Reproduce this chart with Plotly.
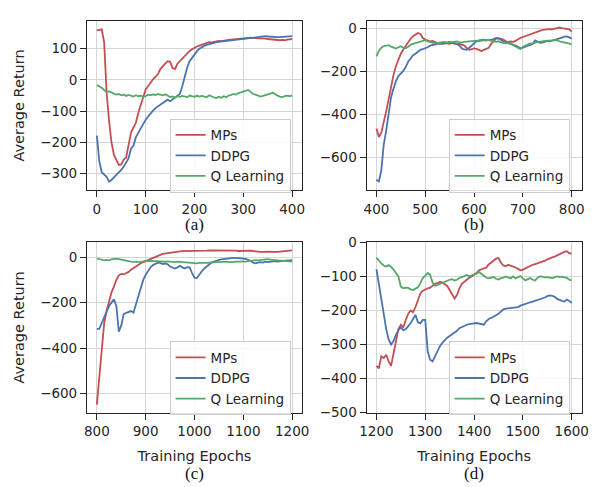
import plotly.graph_objects as go

# ---------------- data ----------------
A_EPOCHS = list(range(0, 401, 5))
B_EPOCHS = list(range(400, 801, 5))
C_EPOCHS = list(range(800, 1201, 5))
D_EPOCHS = list(range(1200, 1601, 5))

A_MPS = [159, 160, 162, 120, -40, -130, -200, -240, -258, -272,
         -270, -255, -248, -205, -168, -152, -137, -105, -80, -50,
         -30, -20, -8, 2, 10, 18, 35, 45, 52, 60,
         58, 38, 35, 52, 60, 68, 78, 86, 93, 98,
         103, 107, 110, 113, 115, 119, 121, 120, 122, 124,
         125, 124, 126, 127, 128, 129, 130, 131, 131, 132,
         133, 134, 134, 135, 134, 134, 133, 134, 133, 132,
         131, 130, 130, 129, 128, 127, 128, 127, 129, 130,
         131]
A_DDPG = [-178, -260, -295, -302, -310, -325, -320, -312, -305, -295,
          -288, -278, -266, -250, -220, -210, -183, -168, -152, -140,
          -127, -117, -106, -98, -90, -84, -78, -72, -66, -63,
          -68, -62, -58, -52, -45, -20, 15, 40, 60, 72,
          83, 92, 100, 105, 109, 112, 115, 117, 119, 121,
          122, 123, 124, 125, 126, 127, 128, 129, 130, 131,
          132, 133, 134, 135, 136, 137, 138, 139, 139, 140,
          139, 138, 137, 136, 137, 137, 138, 139, 139, 140,
          140]
A_QL = [-16, -20, -25, -32, -38, -37, -40, -44, -47, -45,
        -49, -47, -51, -48, -50, -53, -49, -52, -50, -54,
        -52, -47, -49, -46, -48, -45, -47, -49, -46, -50,
        -55, -53, -56, -52, -54, -51, -53, -55, -50, -52,
        -54, -50, -53, -51, -52, -55, -49, -53, -56, -58,
        -54, -57, -52, -55, -50, -48, -45, -47, -42, -40,
        -38, -35, -32, -38, -45, -47, -50, -53, -51, -49,
        -47, -44, -40, -46, -50, -53, -55, -52, -50, -52,
        -50]

B_MPS = [-466, -505, -485, -440, -385, -330, -270, -215, -175, -145,
         -118, -98, -80, -62, -48, -36, -27, -21, -26, -45,
         -52, -55, -60, -58, -64, -68, -72, -70, -68, -70,
         -72, -67, -70, -74, -72, -77, -80, -92, -100, -97,
         -93, -95, -100, -105, -100, -96, -90, -72, -58, -48,
         -46, -48, -52, -60, -63, -61, -63, -58, -50, -44,
         -40, -36, -33, -28, -22, -18, -15, -10, -7, -6,
         -4, -3, -4, -1, 2, 4, 1, -2, -4, -5,
         -15]
B_DDPG = [-704, -712, -660, -540, -475, -395, -320, -280, -245, -222,
          -210, -198, -180, -155, -140, -125, -118, -108, -100, -96,
          -93, -88, -80, -77, -75, -72, -70, -72, -68, -66,
          -65, -68, -70, -72, -80, -93, -98, -100, -90, -80,
          -72, -60, -56, -54, -52, -55, -56, -54, -50, -44,
          -46, -55, -60, -64, -70, -72, -75, -80, -86, -93,
          -90, -84, -80, -78, -72, -56, -62, -67, -66, -62,
          -58, -60, -57, -55, -52, -47, -43, -38, -37, -42,
          -48]
B_QL = [-130, -105, -90, -82, -80, -78, -85, -90, -94, -88,
        -83, -90, -93, -85, -76, -72, -68, -66, -62, -57,
        -55, -60, -63, -67, -70, -68, -66, -64, -63, -66,
        -62, -64, -63, -61, -64, -66, -63, -62, -60, -62,
        -58, -57, -60, -56, -55, -57, -54, -58, -62, -63,
        -60, -65, -68, -70, -67, -72, -78, -82, -88, -96,
        -85, -78, -75, -70, -72, -66, -63, -61, -60, -58,
        -57, -55, -56, -54, -55, -60, -62, -64, -68, -70,
        -73]

C_MPS = [-648, -520, -380, -290, -237, -190, -155, -130, -100, -80,
         -74, -76, -70, -65, -55, -47, -40, -33, -27, -22,
         -17, -12, -7, -3, 2, 6, 10, 14, 16, 18,
         20, 22, 23, 24, 25, 26, 26, 26, 27, 27,
         28, 28, 27, 28, 29, 29, 30, 30, 31, 30,
         31, 31, 30, 31, 32, 31, 30, 29, 27, 28,
         26, 29, 30, 29, 27, 25, 24, 23, 23, 24,
         23, 24, 23, 22, 23, 24, 25, 26, 27, 29,
         30]
C_DDPG = [-315, -315, -290, -262, -237, -215, -200, -185, -215, -328,
          -300, -250, -245, -240, -237, -244, -205, -170, -130, -100,
          -78, -60, -45, -35, -28, -24, -25, -30, -28, -32,
          -41, -45, -50, -45, -38, -45, -50, -44, -45, -70,
          -90, -92, -75, -62, -50, -40, -32, -24, -20, -15,
          -12, -10, -8, -6, -5, -4, -3, -3, -4, -5,
          -6, -8, -12, -16, -24, -27, -24, -22, -24, -20,
          -22, -20, -21, -18, -20, -17, -16, -15, -14, -13,
          -13]
C_QL = [-6, -9, -13, -14, -12, -14, -10, -8, -7, -9,
        -12, -13, -15, -18, -20, -21, -23, -24, -22, -19,
        -17, -18, -16, -17, -18, -17, -19, -18, -20, -19,
        -21, -20, -22, -20, -21, -19, -21, -23, -22, -25,
        -26, -27, -25, -26, -24, -25, -24, -23, -22, -24,
        -21, -22, -21, -20, -22, -21, -20, -19, -21, -20,
        -19, -20, -18, -17, -15, -13, -14, -12, -11, -10,
        -9, -11, -12, -14, -13, -15, -16, -17, -18, -19,
        -20]

D_MPS = [-363, -370, -335, -340, -330, -350, -363, -325, -285, -255,
         -242, -250, -228, -210, -200, -205, -190, -168, -150, -142,
         -138, -135, -133, -128, -122, -120, -116, -118, -124, -128,
         -140, -155, -165, -155, -135, -122, -115, -110, -104, -100,
         -95, -90, -82, -80, -78, -74, -65, -60, -55, -48,
         -46, -60, -68, -70, -66, -68, -72, -74, -78, -82,
         -80, -76, -72, -70, -66, -64, -62, -60, -56, -54,
         -50, -46, -44, -42, -38, -35, -32, -28, -26, -32,
         -33]
D_DDPG = [-79, -120, -160, -210, -255, -285, -300, -290, -272, -258,
          -250, -258, -255, -248, -238, -225, -213, -235, -238, -228,
          -228, -320, -345, -350, -335, -318, -305, -295, -286, -280,
          -275, -270, -266, -260, -252, -248, -244, -242, -240, -238,
          -238, -237, -238, -240, -242, -232, -225, -222, -218, -215,
          -210, -203, -197, -195, -194, -193, -192, -191, -190, -186,
          -183, -181, -178, -176, -174, -172, -170, -168, -166, -162,
          -158, -156, -157, -160, -166, -170, -172, -174, -168, -172,
          -178]
D_QL = [-45, -55, -62, -68, -71, -67, -72, -80, -90, -100,
        -130, -135, -133, -134, -138, -140, -136, -132, -120, -105,
        -98, -90, -95, -118, -128, -125, -122, -118, -114, -112,
        -110, -108, -112, -110, -104, -102, -98, -96, -100, -98,
        -95, -92, -87, -92, -98, -104, -106, -103, -102, -107,
        -109, -105, -104, -100, -102, -106, -100, -106, -102, -99,
        -106, -112, -108, -105, -110, -112, -104, -100, -101, -103,
        -102, -104, -105, -103, -100, -102, -101, -103, -104, -110,
        -112]

SERIES_NAMES = ["MPs", "DDPG", "Q Learning"]
PANEL_LABELS = ["(a)", "(b)", "(c)", "(d)"]

for arr in [A_MPS, A_DDPG, A_QL, B_MPS, B_DDPG, B_QL, C_MPS, C_DDPG, C_QL, D_MPS, D_DDPG, D_QL]:
    assert len(arr) == 81, len(arr)

# ---------------- style ----------------
W, H = 597, 487
COLORS = ["#C44E52", "#4C72B0", "#55A868"]
INK = "#262626"
GRID = "#d6d6d6"
FONT = "DejaVu Sans"
FS = 13.5

panels = [
    dict(ep=A_EPOCHS, ys=[A_MPS, A_DDPG, A_QL], xr=[-20, 420], yr=[-353, 190], ydt=100,
         px=(82, 302), py=(13, 188.5)),
    dict(ep=B_EPOCHS, ys=[B_MPS, B_DDPG, B_QL], xr=[380, 820], yr=[-753, 35], ydt=200,
         px=(368.3, 588.3), py=(13.3, 188.5)),
    dict(ep=C_EPOCHS, ys=[C_MPS, C_DDPG, C_QL], xr=[780, 1220], yr=[-683, 65], ydt=200,
         px=(82, 302), py=(242.3, 418.3)),
    dict(ep=D_EPOCHS, ys=[D_MPS, D_DDPG, D_QL], xr=[1180, 1620], yr=[-500, 0], ydt=100,
         px=(368.3, 588.3), py=(242.3, 418.3)),
]
legend_pos = [(166.5, 114.3), (452.3, 114.3), (166.5, 344.5), (452.3, 344.5)]
label_pos = [(192, 224), (478.3, 224), (192, 481), (478.3, 481)]

fig = go.Figure()
layout = dict(
    width=W, height=H, margin=dict(l=0, r=0, t=0, b=0),
    paper_bgcolor="white", plot_bgcolor="white",
    font=dict(family=FONT, size=FS, color=INK),
    annotations=[],
)

for i, p in enumerate(panels):
    k = "" if i == 0 else str(i + 1)
    lg = "legend" if i == 0 else f"legend{i + 1}"
    for name, y, c in zip(SERIES_NAMES, p["ys"], COLORS):
        fig.add_trace(go.Scatter(
            x=p["ep"], y=y, mode="lines", name=name,
            line=dict(color=c, width=1.8),
            xaxis="x" + k, yaxis="y" + k, legend=lg,
        ))
    axcommon = dict(
        showline=True, mirror=True, linecolor=INK, linewidth=1.3,
        ticks="outside", ticklen=6, tickwidth=1.2, tickcolor=INK,
        showgrid=True, gridcolor=GRID, gridwidth=1, zeroline=False,
        tickfont=dict(family=FONT, size=FS, color=INK),
    )
    x0, x1 = p["px"]
    t0, t1 = p["py"]
    layout["xaxis" + k] = dict(
        axcommon, domain=[x0 / W, x1 / W], range=p["xr"], anchor="y" + k,
        tickmode="linear", tick0=p["ep"][0], dtick=100,
    )
    layout["yaxis" + k] = dict(
        axcommon, domain=[1 - t1 / H, 1 - t0 / H], range=p["yr"], anchor="x" + k,
        tickmode="linear", tick0=0, dtick=p["ydt"],
    )
    if i in (0, 2):
        layout["yaxis" + k]["title"] = dict(text="Average Return", font=dict(size=14.5, color=INK), standoff=12)
    if i in (2, 3):
        layout["xaxis" + k]["title"] = dict(text="Training Epochs", font=dict(size=14.5, color=INK), standoff=12)
    lx, ly = legend_pos[i]
    layout[lg] = dict(
        x=lx / W, y=1 - ly / H, xanchor="left", yanchor="top",
        bgcolor="rgba(255,255,255,0.85)", bordercolor="#cccccc", borderwidth=1,
        font=dict(family=FONT, size=FS, color=INK),
        tracegroupgap=0, itemwidth=30,
    )
    ax, ay = label_pos[i]
    layout["annotations"].append(dict(
        text=PANEL_LABELS[i], x=ax / W, y=1 - ay / H, xref="paper", yref="paper",
        xanchor="center", yanchor="middle", showarrow=False,
        font=dict(family="Liberation Serif", size=17, color="#111111"),
    ))

fig.update_layout(**layout)
fig.write_html("out.html")
